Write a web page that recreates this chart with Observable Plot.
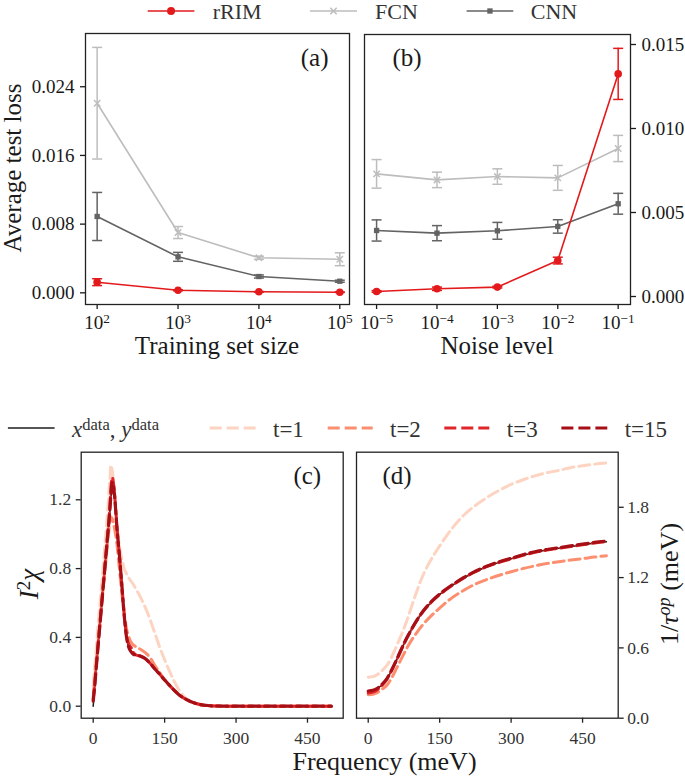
<!DOCTYPE html>
<html><head><meta charset="utf-8">
<script src="https://cdn.jsdelivr.net/npm/d3@7"></script>
<script src="https://cdn.jsdelivr.net/npm/@observablehq/plot@0.6"></script>
<style>
body{margin:0;background:#fff;}
#fig{position:relative;width:685px;height:778px;overflow:hidden;font-family:"Liberation Serif",serif;background:#fff;}
</style></head><body><div id="fig"></div>
<script>
// ---------- DATA ----------
// panel (a): training set size
const trainSizes = [1e2, 1e3, 1e4, 1e5];
const aRRIM    = [0.00124, 0.00030, 0.00012, 0.00007];
const aRRIMerr = [0.00040, 0.00006, 0.00003, 0.00003];
const aFCN     = [0.02208, 0.00702, 0.00408, 0.00391];
const aFCNerr  = [0.00650, 0.00070, 0.00018, 0.00075];
const aCNN     = [0.00889, 0.00419, 0.00190, 0.00135];
const aCNNerr  = [0.00280, 0.00052, 0.00018, 0.00012];
const aTicksY  = [0, 0.008, 0.016, 0.024];

// panel (b): noise level
const noiseLevels = [1e-5, 1e-4, 1e-3, 1e-2, 1e-1];
const bRRIM    = [0.00030, 0.00046, 0.00056, 0.00214, 0.01325];
const bRRIMerr = [0.00005, 0.00010, 0.00005, 0.00020, 0.00152];
const bFCN     = [0.00730, 0.00694, 0.00714, 0.00706, 0.00881];
const bFCNerr  = [0.00085, 0.00046, 0.00046, 0.00074, 0.00078];
const bCNN     = [0.00393, 0.00377, 0.00391, 0.00417, 0.00552];
const bCNNerr  = [0.00063, 0.00045, 0.00050, 0.00040, 0.00062];
const bTicksY  = [0, 0.005, 0.010, 0.015];

// panel (c): I^2 chi vs frequency (meV)
const freqC = [0,3,6,10,15,20,25,30,35,37,40,42,45,50,55,60,65,70,75,80,85,90,100,110,120,130,140,150,160,170,180,190,200,210,220,230,240,260,280,300,350,400,450,500];
const cData = [0,0.10,0.20,0.33,0.49,0.65,0.81,0.97,1.13,1.20,1.29,1.28,1.21,1.03,0.88,0.71,0.53,0.40,0.335,0.31,0.30,0.298,0.29,0.275,0.248,0.215,0.185,0.152,0.122,0.093,0.067,0.048,0.033,0.021,0.013,0.007,0.004,0.001,0,0,0,0,0,0];
const cT1   = [0.12,0.22,0.32,0.46,0.62,0.78,0.95,1.12,1.32,1.40,1.37,1.32,1.21,1.05,0.93,0.86,0.80,0.77,0.745,0.725,0.705,0.68,0.63,0.57,0.50,0.42,0.34,0.27,0.205,0.145,0.095,0.058,0.033,0.019,0.010,0.006,0.004,0.001,0,0,0,0,0,0];
const cT2   = [0.05,0.15,0.24,0.36,0.51,0.66,0.80,0.94,1.07,1.10,1.09,1.07,1.03,0.94,0.80,0.66,0.54,0.45,0.40,0.37,0.355,0.345,0.33,0.31,0.28,0.235,0.195,0.155,0.122,0.093,0.067,0.048,0.033,0.021,0.013,0.007,0.004,0.001,0,0,0,0,0,0];
const cT3   = [0.04,0.12,0.22,0.35,0.51,0.67,0.83,0.99,1.16,1.26,1.33,1.31,1.23,1.04,0.88,0.71,0.54,0.41,0.36,0.34,0.31,0.298,0.29,0.275,0.248,0.215,0.185,0.152,0.122,0.093,0.067,0.048,0.033,0.021,0.013,0.007,0.004,0.001,0,0,0,0,0,0];
const cT15  = [0.03,0.11,0.21,0.34,0.50,0.66,0.82,0.98,1.14,1.22,1.30,1.29,1.22,1.03,0.88,0.71,0.53,0.40,0.34,0.315,0.30,0.298,0.29,0.275,0.248,0.215,0.185,0.152,0.122,0.093,0.067,0.048,0.033,0.021,0.013,0.007,0.004,0.001,0,0,0,0,0,0];
const cTicksX = [0,150,300,450];
const cTicksY = [0,0.4,0.8,1.2];

// panel (d): 1/tau^op vs frequency (meV)
const freqD = [0,10,20,30,40,50,60,70,80,90,100,115,130,150,175,200,225,250,275,300,325,350,375,400,425,450,475,500];
const dData = [0.230,0.235,0.255,0.290,0.340,0.415,0.500,0.590,0.675,0.750,0.820,0.910,0.980,1.055,1.130,1.195,1.250,1.295,1.330,1.360,1.390,1.415,1.435,1.450,1.465,1.480,1.495,1.505];
const dT1   = [0.350,0.355,0.375,0.410,0.455,0.530,0.620,0.715,0.820,0.940,1.060,1.220,1.340,1.470,1.615,1.730,1.815,1.885,1.945,1.995,2.035,2.068,2.095,2.115,2.138,2.155,2.168,2.178];
const dT2   = [0.200,0.205,0.220,0.250,0.285,0.350,0.430,0.510,0.590,0.660,0.720,0.800,0.865,0.940,1.025,1.090,1.145,1.185,1.220,1.250,1.277,1.300,1.320,1.335,1.350,1.362,1.375,1.386];
const dT3   = [0.215,0.222,0.245,0.285,0.338,0.415,0.500,0.590,0.675,0.750,0.820,0.910,0.980,1.055,1.130,1.195,1.250,1.295,1.330,1.360,1.390,1.415,1.435,1.450,1.465,1.480,1.495,1.505];
const dT15  = [0.232,0.238,0.258,0.293,0.343,0.418,0.503,0.593,0.678,0.753,0.823,0.913,0.984,1.059,1.134,1.199,1.254,1.299,1.334,1.365,1.395,1.420,1.440,1.455,1.470,1.485,1.500,1.512];
const dTicksX = [0,150,300,450];
const dTicksY = [0,0.6,1.2,1.8];

// ---------- STYLE ----------
const cRRIM = "#e31a1c", cFCN = "#bdbdbd", cCNN = "#636363";
const cT = {t1:"#fdd3c1", t2:"#fc8f6f", t3:"#e0262a", t15:"#a50f15", data:"#1e1e1e"};
const FONT = "Liberation Serif, serif";

const fig = document.getElementById("fig");
function place(svg, left, top) {
  svg.style.position = "absolute";
  svg.style.left = left + "px";
  svg.style.top = top + "px";
  svg.style.maxWidth = "none";
  fig.appendChild(svg);
}
function supTicks(svg) {
  d3.select(svg).selectAll("text").each(function () {
    const m = /^10\^(.+)$/.exec(this.textContent);
    if (m) {
      const el = d3.select(this);
      el.text(null);
      el.append("tspan").text("10");
      el.append("tspan").attr("dy", "-0.45em").attr("font-size", "0.7em").text(m[1].replace("-", "\u2212"));
    }
  });
}
const cap = {draw(ctx, size) { const r = Math.sqrt(size / Math.PI); ctx.moveTo(-r, 0); ctx.lineTo(r, 0); }};

function rows(xs, vals, errs) {
  return xs.map((x, i) => ({x, y: vals[i], lo: vals[i] - errs[i], hi: vals[i] + errs[i]}));
}
function series(data, color, symbol, r, filled) {
  return [
    Plot.line(data, {x: "x", y: "y", stroke: color, strokeWidth: 1.6}),
    Plot.ruleX(data, {x: "x", y1: "lo", y2: "hi", stroke: color, strokeWidth: 1.5}),
    Plot.dot(data, {x: "x", y: "lo", symbol: cap, r: 5, stroke: color, strokeWidth: 1.5, fill: "none"}),
    Plot.dot(data, {x: "x", y: "hi", symbol: cap, r: 5, stroke: color, strokeWidth: 1.5, fill: "none"}),
    filled
      ? Plot.dot(data, {x: "x", y: "y", symbol, r, fill: color, stroke: "none"})
      : Plot.dot(data, {x: "x", y: "y", symbol, r, fill: "none", stroke: color, strokeWidth: 1.5})
  ];
}
const logFmt = d => "10^" + Math.round(Math.log10(d));

// ---------- PANEL (a) ----------
const pa = Plot.plot({
  width: 357, height: 340, marginTop: 33, marginRight: 8, marginBottom: 36, marginLeft: 85,
  style: {fontFamily: FONT, fontSize: "19px", background: "transparent", overflow: "visible", color: "#1a1a1a"},
  x: {type: "log", domain: [Math.pow(10, 1.856), Math.pow(10, 5.12)]},
  y: {domain: [-0.00136, 0.0302]},
  marks: [
    Plot.axisX({ticks: trainSizes, tickFormat: logFmt, tickSize: 5, tickPadding: 6, fontSize: 19, label: null, strokeWidth: 1.3}),
    Plot.axisY({ticks: aTicksY, tickFormat: d3.format(".3f"), tickSize: 5, tickPadding: 6, fontSize: 19, label: null, strokeWidth: 1.3}),
    ...series(rows(trainSizes, aFCN, aFCNerr), cFCN, "times", 3, false),
    ...series(rows(trainSizes, aCNN, aCNNerr), cCNN, "square", 3, true),
    ...series(rows(trainSizes, aRRIM, aRRIMerr), cRRIM, "circle", 3.8, true),
    Plot.text(["(a)"], {text: d => d, frameAnchor: "top-right", dx: -21, dy: 15, lineAnchor: "top", textAnchor: "end", fontSize: 25, fill: "#1a1a1a"}),
    Plot.frame({stroke: "#222", strokeWidth: 1.3})
  ]
});
supTicks(pa);
place(pa, 0, 0);

// ---------- PANEL (b) ----------
const pb = Plot.plot({
  width: 328, height: 340, marginTop: 34, marginRight: 55, marginBottom: 36, marginLeft: 7,
  style: {fontFamily: FONT, fontSize: "19px", background: "transparent", overflow: "visible", color: "#1a1a1a"},
  x: {type: "log", domain: [Math.pow(10, -5.2), Math.pow(10, -0.796)]},
  y: {domain: [-0.000476, 0.015595]},
  marks: [
    Plot.axisX({ticks: noiseLevels, tickFormat: logFmt, tickSize: 5, tickPadding: 6, fontSize: 19, label: null, strokeWidth: 1.3}),
    Plot.axisY({anchor: "right", ticks: bTicksY, tickFormat: d3.format(".3f"), tickSize: 5, tickPadding: 6, fontSize: 19, label: null, strokeWidth: 1.3}),
    ...series(rows(noiseLevels, bFCN, bFCNerr), cFCN, "times", 3, false),
    ...series(rows(noiseLevels, bCNN, bCNNerr), cCNN, "square", 3, true),
    ...series(rows(noiseLevels, bRRIM, bRRIMerr), cRRIM, "circle", 3.8, true),
    Plot.text(["(b)"], {text: d => d, frameAnchor: "top-left", dx: 28, dy: 14, lineAnchor: "top", textAnchor: "start", fontSize: 25, fill: "#1a1a1a"}),
    Plot.frame({stroke: "#222", strokeWidth: 1.3})
  ]
});
supTicks(pb);
place(pb, 357, 0);

// ---------- PANELS (c), (d) ----------
function curveRows(xs, ys) { return xs.map((x, i) => ({x, y: ys[i]})); }
function curves(xs, data, t1, t2, t3, t15) {
  const dash = {strokeDasharray: "11,5", strokeWidth: 3, curve: "monotone-x"};
  return [
    Plot.line(curveRows(xs, data), {x: "x", y: "y", stroke: cT.data, strokeWidth: 1.5, curve: "monotone-x"}),
    Plot.line(curveRows(xs, t1), {x: "x", y: "y", stroke: cT.t1, ...dash}),
    Plot.line(curveRows(xs, t2), {x: "x", y: "y", stroke: cT.t2, ...dash}),
    Plot.line(curveRows(xs, t3), {x: "x", y: "y", stroke: cT.t3, ...dash}),
    Plot.line(curveRows(xs, t15), {x: "x", y: "y", stroke: cT.t15, ...dash, strokeWidth: 3.2})
  ];
}
const pc = Plot.plot({
  width: 349, height: 338, marginTop: 11.7, marginRight: 6.3, marginBottom: 60.3, marginLeft: 80.7,
  style: {fontFamily: FONT, fontSize: "17.5px", background: "transparent", overflow: "visible", color: "#333"},
  x: {domain: [-25.2, 525]},
  y: {domain: [-0.0698, 1.4767]},
  marks: [
    Plot.axisX({ticks: cTicksX, tickFormat: d3.format("d"), tickSize: 5, tickPadding: 8, fontSize: 17.5, label: null, stroke: "#222", strokeWidth: 1.3}),
    Plot.axisY({ticks: cTicksY, tickFormat: d3.format(".1f"), tickSize: 5, tickPadding: 5, fontSize: 17.5, label: null, stroke: "#222", strokeWidth: 1.3}),
    ...curves(freqC, cData, cT1, cT2, cT3, cT15),
    Plot.text(["(c)"], {text: d => d, frameAnchor: "top-right", dx: -22, dy: 14, lineAnchor: "top", textAnchor: "end", fontSize: 25, fill: "#1a1a1a"}),
    Plot.frame({stroke: "#222", strokeWidth: 1.3})
  ]
});
place(pc, 0, 440);

const pd = Plot.plot({
  width: 336, height: 338, marginTop: 11.7, marginRight: 67.3, marginBottom: 60.3, marginLeft: 7,
  style: {fontFamily: FONT, fontSize: "17.5px", background: "transparent", overflow: "visible", color: "#333"},
  x: {domain: [-24.6, 524.8]},
  y: {domain: [0, 2.270]},
  marks: [
    Plot.axisX({ticks: dTicksX, tickFormat: d3.format("d"), tickSize: 5, tickPadding: 8, fontSize: 17.5, label: null, stroke: "#222", strokeWidth: 1.3}),
    Plot.axisY({anchor: "right", ticks: dTicksY, tickFormat: d3.format(".1f"), tickSize: 5, tickPadding: 4, fontSize: 17.5, label: null, stroke: "#222", strokeWidth: 1.3}),
    ...curves(freqD, dData, dT1, dT2, dT3, dT15),
    Plot.text(["(d)"], {text: d => d, frameAnchor: "top-left", dx: 26, dy: 14, lineAnchor: "top", textAnchor: "start", fontSize: 25, fill: "#1a1a1a"}),
    Plot.frame({stroke: "#222", strokeWidth: 1.3})
  ]
});
place(pd, 349, 440);

// ---------- LABELS & LEGENDS ----------
const ov = d3.select(fig).append("svg")
  .attr("width", 685).attr("height", 778)
  .style("position", "absolute").style("left", "0px").style("top", "0px")
  .style("pointer-events", "none").style("font-family", FONT);

function label(x, y, rot, parts, size, anchor = "middle") {
  const t = ov.append("text")
    .attr("transform", `translate(${x},${y}) rotate(${rot})`)
    .attr("text-anchor", anchor).attr("font-size", size).attr("fill", "#1a1a1a");
  for (const p of parts) {
    const s = t.append("tspan").text(p.t);
    if (p.i) s.attr("font-style", "italic");
    if (p.sup) s.attr("dy", "-0.45em").attr("font-size", "0.7em");
    if (p.down) s.attr("dy", "0.315em");
  }
  return t;
}
label(21, 168, -90, [{t: "Average test loss"}], 25);
label(217, 354, 0, [{t: "Training set size"}], 25);
label(497, 354, 0, [{t: "Noise level"}], 25);
label(38, 584, -90, [{t: "I", i: true}, {t: "2", sup: true}, {t: "\u03c7", i: true, down: true}], 27);
label(384.5, 770, 0, [{t: "Frequency (meV)"}], 26);
label(678, 584, -90, [{t: "1/"}, {t: "\u03c4", i: true}, {t: "op", i: true, sup: true}, {t: " (meV)", down: true}], 26);

// top legend
const topLeg = [
  {name: "rRIM", color: cRRIM, sym: d3.symbolCircle, size: Math.PI * 16, fill: true, x0: 147.7, x1: 194.4, tx: 212.8},
  {name: "FCN", color: cFCN, sym: d3.symbolTimes, size: Math.PI * 9, fill: false, x0: 310, x1: 357, tx: 375},
  {name: "CNN", color: cCNN, sym: d3.symbolSquare, size: Math.PI * 9, fill: true, x0: 466.6, x1: 513.3, tx: 530.8}
];
const ly = 11;
for (const l of topLeg) {
  ov.append("line").attr("x1", l.x0).attr("x2", l.x1).attr("y1", ly).attr("y2", ly).attr("stroke", l.color).attr("stroke-width", 1.6);
  ov.append("path").attr("d", d3.symbol(l.sym, l.size)()).attr("transform", `translate(${(l.x0 + l.x1) / 2},${ly})`)
    .attr("fill", l.fill ? l.color : "none").attr("stroke", l.fill ? "none" : l.color).attr("stroke-width", 1.5);
  ov.append("text").attr("x", l.tx).attr("y", ly + 7.5).attr("font-size", 22).attr("fill", "#333").text(l.name);
}
// bottom legend
const by = 428;
const botLeg = [
  {key: "data", x0: 7.9, x1: 54.6, tx: 72},
  {key: "t1", name: "t=1", x0: 209.7, x1: 255.6, tx: 273},
  {key: "t2", name: "t=2", x0: 327.7, x1: 372.7, tx: 390},
  {key: "t3", name: "t=3", x0: 444.3, x1: 489.3, tx: 506.8},
  {key: "t15", name: "t=15", x0: 561.4, x1: 607.3, tx: 624.7}
];
for (const l of botLeg) {
  const ln = ov.append("line").attr("x1", l.x0).attr("x2", l.x1).attr("y1", by).attr("y2", by).attr("stroke", cT[l.key]);
  if (l.key === "data") ln.attr("stroke-width", 1.6);
  else ln.attr("stroke-width", 3).attr("stroke-dasharray", "12,5");
  if (l.key === "data") {
    const t = ov.append("text").attr("x", l.tx).attr("y", by + 9).attr("font-size", 23).attr("fill", "#333");
    t.append("tspan").attr("font-style", "italic").text("x");
    t.append("tspan").attr("dy", "-0.45em").attr("font-size", "0.72em").text("data");
    t.append("tspan").attr("dy", "0.324em").text(", ");
    t.append("tspan").attr("font-style", "italic").text("y");
    t.append("tspan").attr("dy", "-0.45em").attr("font-size", "0.72em").text("data");
  } else {
    ov.append("text").attr("x", l.tx).attr("y", by + 8.5).attr("font-size", 23).attr("fill", "#333").text(l.name);
  }
}
</script></body></html>
